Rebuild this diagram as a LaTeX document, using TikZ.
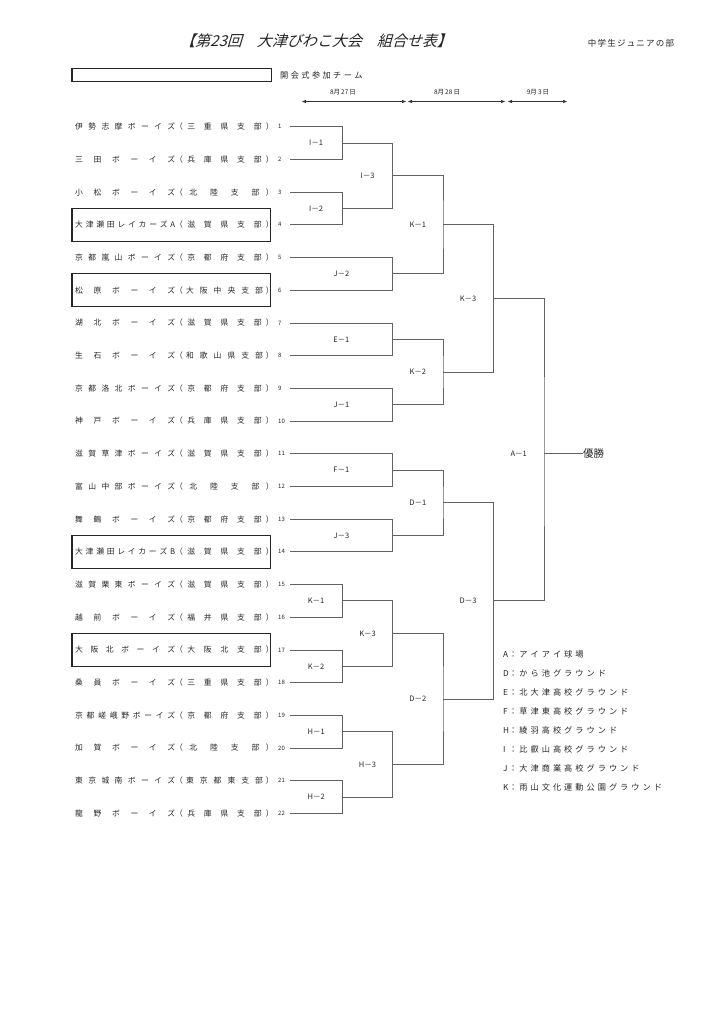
\documentclass[tikz,border=0pt]{standalone}
\usepackage{fontspec}
\setmainfont{Noto Sans CJK JP}
\newfontfamily\titlefont[FakeSlant=0.3]{Noto Sans CJK JP}
\usetikzlibrary{calc,arrows.meta}
\ExplSyntaxOn
\NewDocumentCommand\distbox{m m}{\hbox to #1{\tl_map_inline:nn{#2}{##1\hfil}\unskip}}
\NewDocumentCommand\distpad{m m}{\hbox to #1{\hskip 0pt plus 0.5fil\tl_map_inline:nn{#2}{##1\hfil}\unskip\hskip 0pt plus 0.5fil}}
\NewDocumentCommand\spaced{m m}{\tl_map_inline:nn{#2}{##1\kern#1}\unkern}
\ExplSyntaxOff
\definecolor{txt}{gray}{0.15}
\definecolor{lin}{gray}{0.38}
\tikzset{
  teamtxt/.style={anchor=west,inner sep=0pt,text=txt,font=\fontsize{7.8}{9}\selectfont},
  numtxt/.style={anchor=west,inner sep=0pt,text=txt,font=\fontsize{6}{7}\selectfont},
  mlabel/.style={inner sep=0pt,text=txt,font=\fontsize{7.5}{9}\selectfont},
  bline/.style={draw=lin,line width=0.8pt},
  tbox/.style={draw=black!85,line width=1.2pt},
  legend/.style={anchor=west,inner sep=0pt,text=txt,font=\fontsize{8.2}{9}\selectfont},
  datelbl/.style={inner sep=0pt,text=txt,font=\fontsize{6.5}{7}\selectfont},
  datearrow/.style={draw=black!80,line width=0.5pt,{Triangle[length=4pt,width=3pt]}-{Triangle[length=4pt,width=3pt]}}
}
\newcommand\team[3]{%
  \node[teamtxt] (t#1) at (75,{126.7+32.7*(#1-1)}) {\distbox{100pt}{#2}（\distpad{83pt}{#3}）};
  \node[numtxt] (n#1) at (278,{126.7+32.7*(#1-1)}) {#1};
  \coordinate (s#1) at (290,{126.7+32.7*(#1-1)});
}
\newcommand\bracket[6]{%
  \coordinate (#1) at (#2,{126.7+32.7*(#3-1)});
  \draw[bline] (#4) -| (#1) |- (#5);
  \node[mlabel] (#1-l) at ($(#4 |- #1)!0.5!(#1)$) {#6};
}
\begin{document}
\begin{tikzpicture}[x=1pt,y=-1pt]
\fill[white] (0,0) rectangle (724,1024);
\useasboundingbox (0,0) rectangle (724,1024);

% header
\node[inner sep=0pt,text=txt,font=\titlefont\fontsize{15}{17}\selectfont] (title) at (316,41) {【第23回　大津びわこ大会　組合せ表】};
\node[inner sep=0pt,text=txt,font=\fontsize{8.5}{10}\selectfont] (division) at (631,43) {\spaced{1.2pt}{中学生ジュニアの部}};
\draw[tbox] (72,68.3) rectangle (271.7,81.7);
\node[legend] (opening) at (280,75) {\spaced{2.4pt}{開会式参加チーム}};

% dates
\coordinate (d1a) at (302,101.5); \coordinate (d1b) at (406,101.5);
\coordinate (d2a) at (408,101.5); \coordinate (d2b) at (505,101.5);
\coordinate (d3a) at (508,101.5); \coordinate (d3b) at (567,101.5);
\draw[datearrow] (d1a) -- (d1b);
\draw[datearrow] (d2a) -- (d2b);
\draw[datearrow] (d3a) -- (d3b);
\node[datelbl] (day1) at (343,92) {8月\,27\,日};
\node[datelbl] (day2) at (447,92) {8月\,28\,日};
\node[datelbl] (day3) at (538,92) {9月\,3\,日};

% teams
\team{1}{伊勢志摩ボーイズ}{三重県支部}
\team{2}{三田ボーイズ}{兵庫県支部}
\team{3}{小松ボーイズ}{北陸支部}
\team{4}{大津瀬田レイカーズA}{滋賀県支部}
\team{5}{京都嵐山ボーイズ}{京都府支部}
\team{6}{松原ボーイズ}{大阪中央支部}
\team{7}{湖北ボーイズ}{滋賀県支部}
\team{8}{生石ボーイズ}{和歌山県支部}
\team{9}{京都洛北ボーイズ}{京都府支部}
\team{10}{神戸ボーイズ}{兵庫県支部}
\team{11}{滋賀草津ボーイズ}{滋賀県支部}
\team{12}{富山中部ボーイズ}{北陸支部}
\team{13}{舞鶴ボーイズ}{京都府支部}
\team{14}{大津瀬田レイカーズB}{滋賀県支部}
\team{15}{滋賀栗東ボーイズ}{滋賀県支部}
\team{16}{越前ボーイズ}{福井県支部}
\team{17}{大阪北ボーイズ}{大阪北支部}
\team{18}{桑員ボーイズ}{三重県支部}
\team{19}{京都嵯峨野ボーイズ}{京都府支部}
\team{20}{加賀ボーイズ}{北陸支部}
\team{21}{東京城南ボーイズ}{東京都東支部}
\team{22}{龍野ボーイズ}{兵庫県支部}

% boxed teams (opening ceremony)
\foreach \i in {4,6,14,17}{
  \draw[tbox] (72,{126.7+32.7*(\i-1)-16.6}) rectangle (270.7,{126.7+32.7*(\i-1)+16.6});
}

% bracket
\bracket{I1}{342.3}{1.5}{s1}{s2}{I－1}
\bracket{I2}{342.3}{3.5}{s3}{s4}{I－2}
\bracket{I3}{392.7}{2.5}{I1}{I2}{I－3}
\bracket{J2}{392.7}{5.5}{s5}{s6}{J－2}
\bracket{K1}{443}{4}{I3}{J2}{K－1}
\bracket{E1}{392.7}{7.5}{s7}{s8}{E－1}
\bracket{J1}{392.7}{9.5}{s9}{s10}{J－1}
\bracket{K2}{443}{8.5}{E1}{J1}{K－2}
\bracket{K3}{493.3}{6.25}{K1}{K2}{K－3}
\bracket{F1}{392.7}{11.5}{s11}{s12}{F－1}
\bracket{J3}{392.7}{13.5}{s13}{s14}{J－3}
\bracket{D1}{443}{12.5}{F1}{J3}{D－1}
\bracket{Kb1}{342.3}{15.5}{s15}{s16}{K－1}
\bracket{Kb2}{342.3}{17.5}{s17}{s18}{K－2}
\bracket{Kb3}{392.7}{16.5}{Kb1}{Kb2}{K－3}
\bracket{H1}{342.3}{19.5}{s19}{s20}{H－1}
\bracket{H2}{342.3}{21.5}{s21}{s22}{H－2}
\bracket{H3}{392.7}{20.5}{H1}{H2}{H－3}
\bracket{D2}{443}{18.5}{Kb3}{H3}{D－2}
\bracket{D3}{493.3}{15.5}{D1}{D2}{D－3}
\bracket{A1}{544}{11}{K3}{D3}{A－1}
\node[anchor=west,inner sep=0pt,text=txt,font=\fontsize{10.5}{12}\selectfont] (win) at (583,{126.7+32.7*10}) {優勝};
\draw[bline] (A1) -- (win.west);

% venue legend
\node[legend] (lgA) at (503,654.5) {\makebox[6pt][l]{A}：\kern2pt\spaced{3pt}{アイアイ球場}};
\node[legend] (lgD) at (503,673.4) {\makebox[6pt][l]{D}：\kern2pt\spaced{3pt}{から池グラウンド}};
\node[legend] (lgE) at (503,692.4) {\makebox[6pt][l]{E}：\kern2pt\spaced{3pt}{北大津高校グラウンド}};
\node[legend] (lgF) at (503,711.3) {\makebox[6pt][l]{F}：\kern2pt\spaced{3pt}{草津東高校グラウンド}};
\node[legend] (lgH) at (503,730.2) {\makebox[6pt][l]{H}：\kern2pt\spaced{3pt}{綾羽高校グラウンド}};
\node[legend] (lgI) at (503,749.2) {\makebox[6pt][l]{I}：\kern2pt\spaced{3pt}{比叡山高校グラウンド}};
\node[legend] (lgJ) at (503,768.1) {\makebox[6pt][l]{J}：\kern2pt\spaced{3pt}{大津商業高校グラウンド}};
\node[legend] (lgK) at (503,787.0) {\makebox[6pt][l]{K}：\kern2pt\spaced{3pt}{雨山文化運動公園グラウンド}};
\end{tikzpicture}
\end{document}
